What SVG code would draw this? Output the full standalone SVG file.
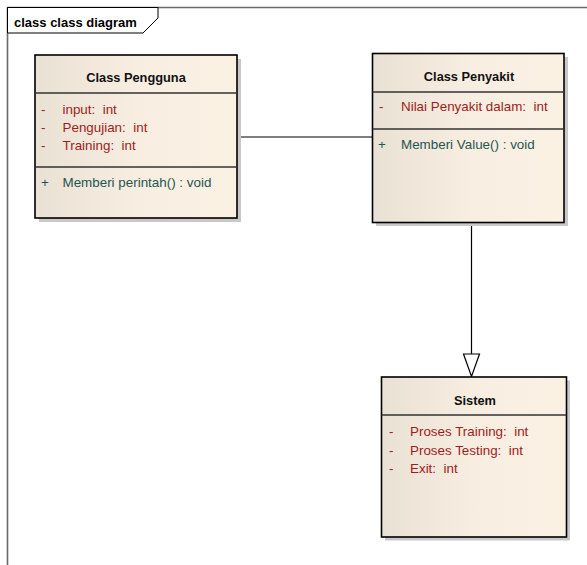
<svg xmlns="http://www.w3.org/2000/svg" width="587" height="565" viewBox="0 0 587 565">
<defs>
<linearGradient id="g" x1="0" y1="0" x2="1" y2="0">
<stop offset="0" stop-color="#e9e1d4"/>
<stop offset="0.5" stop-color="#f7eee1"/>
<stop offset="1" stop-color="#fbf1e3"/>
</linearGradient>
</defs>
<style>
text{white-space:pre}
.frame{fill:none;stroke:#6a6a6a;stroke-width:1.6}
.tab{fill:#fff;stroke:#000;stroke-width:1}
.tabt{font-family:"Liberation Sans",Arial,sans-serif;font-size:13px;font-weight:bold;fill:#000}
.shadow{fill:#c8c8c8}
.box{fill:url(#g);stroke:#000;stroke-width:1.6}
.div{stroke:#333;stroke-width:1.6}
.title{font-family:"Liberation Sans",Arial,sans-serif;font-size:12.8px;font-weight:bold;fill:#111;text-anchor:middle}
.attr{font-family:"Liberation Sans",Arial,sans-serif;font-size:13.4px;fill:#a01c1c}
.meth{font-family:"Liberation Sans",Arial,sans-serif;font-size:13.4px;fill:#1f5650}
.conn{fill:none;stroke:#000;stroke-width:1.2}
.head{fill:#fff;stroke:#000;stroke-width:1.2}
</style>
<g id="frame">
<path class="frame" d="M7.5,565 V7.5 H587"/>
<path class="tab" d="M7.5,7.5 H158 V18 L143,33 H7.5 Z"/>
<text class="tabt" x="14" y="26.5">class class diagram</text>
</g>
<g id="connectors">
<line class="conn" x1="237" y1="137" x2="372" y2="137"/>
<line class="conn" x1="471.5" y1="223" x2="471.5" y2="354"/>
<path class="head" d="M463.5,354 H479.5 L471.5,376.5 Z"/>
</g>
<g id="class-pengguna">
<rect class="shadow" x="39" y="59" width="202" height="163"/>
<rect class="box" x="35" y="55" width="202" height="163"/>
<line class="div" x1="35" y1="93" x2="237" y2="93"/>
<line class="div" x1="35" y1="167" x2="237" y2="167"/>
<text class="title" x="136" y="82">Class Pengguna</text>
<text class="attr" x="41" y="114">-</text><text class="attr" x="62.5" y="114">input:  int</text>
<text class="attr" x="41" y="132">-</text><text class="attr" x="62.5" y="132">Pengujian:  int</text>
<text class="attr" x="41" y="150">-</text><text class="attr" x="62.5" y="150">Training:  int</text>
<text class="meth" x="41" y="187">+</text><text class="meth" x="62.5" y="187">Memberi perintah() : void</text>
</g>
<g id="class-penyakit">
<rect class="shadow" x="376" y="57" width="192" height="169"/>
<rect class="box" x="372.5" y="53.5" width="191.5" height="169"/>
<line class="div" x1="372.5" y1="92" x2="564" y2="92"/>
<line class="div" x1="372.5" y1="129" x2="564" y2="129"/>
<text class="title" x="469" y="81">Class Penyakit</text>
<text class="attr" x="379" y="111">-</text><text class="attr" x="401" y="111">Nilai Penyakit dalam:  int</text>
<text class="meth" x="378" y="148.5">+</text><text class="meth" x="401" y="148.5">Memberi Value() : void</text>
</g>
<g id="sistem">
<rect class="shadow" x="385" y="380.5" width="185" height="160"/>
<rect class="box" x="381.5" y="377" width="185" height="160"/>
<line class="div" x1="381.5" y1="415" x2="566.5" y2="415"/>
<text class="title" x="475" y="404.5">Sistem</text>
<text class="attr" x="389" y="436">-</text><text class="attr" x="410" y="436">Proses Training:  int</text>
<text class="attr" x="389" y="454.5">-</text><text class="attr" x="410" y="454.5">Proses Testing:  int</text>
<text class="attr" x="389" y="472.5">-</text><text class="attr" x="410" y="472.5">Exit:  int</text>
</g>
</svg>
